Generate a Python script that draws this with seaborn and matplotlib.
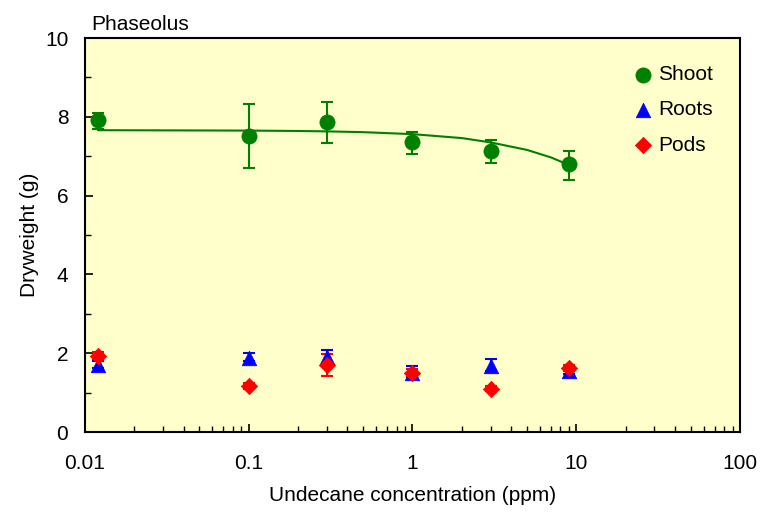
import numpy as np
import pandas as pd
import matplotlib
matplotlib.use("Agg")
import matplotlib.pyplot as plt
import seaborn as sns
from matplotlib.ticker import MultipleLocator, LogLocator, FixedLocator, FixedFormatter, NullFormatter

# ---- data ----
conc = [0.012, 0.1, 0.3, 1, 3, 9]
shoot = [7.92, 7.52, 7.88, 7.35, 7.12, 6.80]
shoot_lo = [7.70, 6.70, 7.34, 7.06, 6.84, 6.39]
shoot_hi = [8.10, 8.32, 8.38, 7.61, 7.42, 7.14]
roots = [1.70, 1.87, 1.90, 1.51, 1.68, 1.56]
roots_lo = [1.62, 1.80, 1.76, 1.40, 1.56, 1.46]
roots_hi = [1.80, 2.01, 2.08, 1.68, 1.85, 1.70]
pods = [1.94, 1.17, 1.71, 1.51, 1.10, 1.62]
pods_lo = [1.86, 1.10, 1.43, 1.41, 1.03, 1.54]
pods_hi = [2.02, 1.24, 1.98, 1.61, 1.17, 1.70]
fit_x = [0.012, 0.1, 0.2, 0.3, 0.5, 1, 2, 3, 5, 7, 9]
fit_y = [7.66, 7.65, 7.64, 7.63, 7.61, 7.56, 7.46, 7.35, 7.16, 6.97, 6.78]
series_names = ["Shoot", "Roots", "Pods"]
xtick_vals = [0.01, 0.1, 1, 10, 100]
xtick_labels = ["0.01", "0.1", "1", "10", "100"]

sns.set_style("ticks")
plt.rcParams["font.family"] = ["Liberation Sans Narrow", "Liberation Sans", "DejaVu Sans"]
plt.rcParams["text.color"] = "black"
plt.rcParams["axes.labelcolor"] = "black"

fig = plt.figure(figsize=(7.6, 5.13), dpi=100)
ax = fig.add_axes([85/760, 81/513, 655/760, 394/513])
ax.set_facecolor("#FFFFCC")

colors = {"Shoot": "#008000", "Roots": "#0000FF", "Pods": "#FF0000"}
markers = {"Shoot": "o", "Roots": "^", "Pods": "D"}
sizes = {"Shoot": 120, "Roots": 110, "Pods": 70}

df = pd.concat([
    pd.DataFrame({"conc": conc, "val": v, "lo": lo, "hi": hi, "part": n})
    for n, v, lo, hi in [("Shoot", shoot, shoot_lo, shoot_hi),
                         ("Roots", roots, roots_lo, roots_hi),
                         ("Pods", pods, pods_lo, pods_hi)]
], ignore_index=True)

fit_df = pd.DataFrame({"x": fit_x, "y": fit_y})
sns.lineplot(data=fit_df, x="x", y="y", ax=ax, color="#008000", lw=1.5, zorder=2)

for n in series_names:
    sub = df[df.part == n]
    ax.errorbar(sub.conc, sub.val, yerr=[sub.val - sub.lo, sub.hi - sub.val],
                fmt="none", ecolor=colors[n], elinewidth=1.5, capsize=4.5, capthick=1.5, zorder=3)
    sns.scatterplot(data=sub, x="conc", y="val", ax=ax, color=colors[n], marker=markers[n],
                    s=sizes[n], edgecolor=colors[n], linewidth=0.5, label=n, zorder=4)

ax.set_xscale("log")
ax.set_xlim(0.01, 100)
ax.set_ylim(0, 10)
ax.xaxis.set_major_locator(FixedLocator(xtick_vals))
ax.xaxis.set_major_formatter(FixedFormatter(xtick_labels))
ax.xaxis.set_minor_locator(LogLocator(base=10, subs=np.arange(2, 10)))
ax.xaxis.set_minor_formatter(NullFormatter())
ax.yaxis.set_major_locator(MultipleLocator(2))
ax.yaxis.set_minor_locator(MultipleLocator(1))
ax.tick_params(which="both", direction="in", labelsize=15, colors="black")
ax.tick_params(which="major", length=6, width=1.2)
ax.tick_params(which="minor", length=4, width=1)
ax.tick_params(axis="x", pad=16)
ax.tick_params(axis="y", pad=12)
for sp in ax.spines.values():
    sp.set_visible(True)
    sp.set_color("black")
    sp.set_linewidth(1.5)

ax.set_xlabel("Undecane concentration (ppm)", fontsize=15, labelpad=9)
ax.set_ylabel("Dryweight (g)", fontsize=15, labelpad=4)
ax.text(0.01, 1.01, "Phaseolus", transform=ax.transAxes, fontsize=15, ha="left", va="bottom")

leg = ax.legend(loc="upper right", frameon=False, fontsize=15, handletextpad=0.1,
                labelspacing=0.78, borderaxespad=0.9, markerscale=1.0, handlelength=1.2)

fig.savefig("out.png", dpi=100)
